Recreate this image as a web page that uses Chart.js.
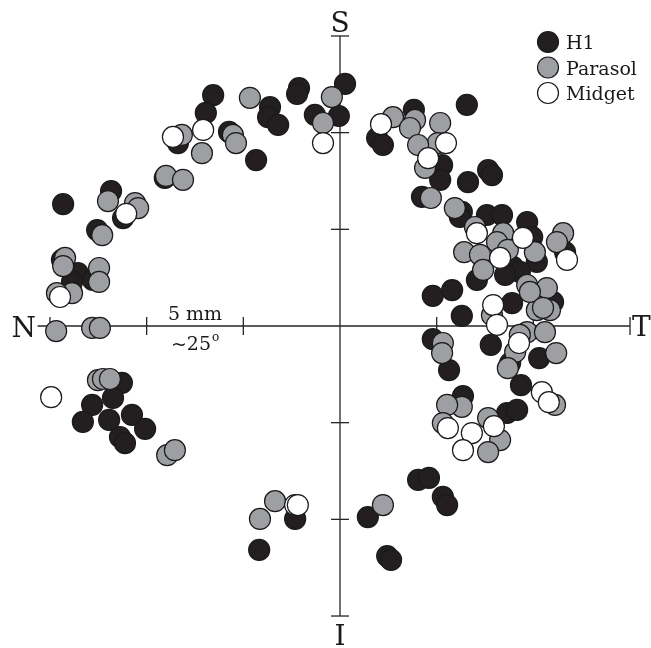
<!DOCTYPE html>
<html>
<head>
<meta charset="utf-8">
<script src="https://cdn.jsdelivr.net/npm/chart.js@4.4.1/dist/chart.umd.min.js"></script>
<style>
  html, body { margin: 0; padding: 0; background: #fff; }
  #wrap { width: 651px; height: 648px; }
</style>
</head>
<body>
<div id="wrap"><canvas id="chart" width="651" height="648"></canvas></div>
<script>
// retinal positions in mm from the fovea (x: nasal <-> temporal, y: inferior <-> superior)
const h1 = [
  [-7.16, 3.15], [-5.92, 3.49], [-5.61, 2.79], [-6.28, 2.48], [-7.19, 1.71], [-6.78, 1.37],
  [-6.93, 1.14], [-6.39, 1.19], [-3.28, 5.97], [-3.47, 5.51], [-1.81, 5.66], [-1.86, 5.40],
  [-1.60, 5.20], [-1.06, 6.15], [-1.11, 6.00], [-0.65, 5.46], [0.13, 6.26], [-0.03, 5.43],
  [-2.87, 5.02], [-2.17, 4.29], [-4.19, 4.73], [-4.53, 3.83],
  [-5.64, -1.47], [-5.87, -1.86], [-6.41, -2.04], [-6.65, -2.48], [-5.97, -2.43], [-5.38, -2.30],
  [-5.04, -2.66], [-5.69, -2.87], [-5.56, -3.03],
  [-1.16, -4.99], [-2.09, -5.79], [0.72, -4.94], [2.02, -3.98], [2.30, -3.93], [2.66, -4.42],
  [2.77, -4.63], [1.22, -5.95], [1.32, -6.05],
  [3.28, 5.72], [0.96, 4.86], [1.11, 4.68], [1.91, 5.59], [2.64, 4.16], [2.59, 3.78],
  [3.31, 3.72], [3.83, 4.03], [3.93, 3.90], [2.12, 3.34], [3.15, 2.95], [3.10, 2.82],
  [3.80, 2.87], [4.19, 2.87], [4.84, 2.69], [4.97, 2.30], [5.82, 1.91], [5.09, 1.66],
  [3.54, 1.19], [4.47, 1.53], [4.65, 1.40], [4.27, 1.32], [2.40, 0.78], [2.90, 0.93],
  [3.15, 0.26], [4.45, 0.59], [5.51, 0.62], [2.40, -0.34], [2.82, -1.14], [3.90, -0.49],
  [4.40, -0.96], [5.15, -0.83], [4.68, -1.53], [3.18, -1.81], [4.32, -2.25], [4.58, -2.17]
];

const parasol = [
  [-6.00, 3.23], [-5.30, 3.18], [-5.22, 3.05], [-6.15, 2.35], [-7.11, 1.76], [-7.16, 1.55],
  [-6.23, 1.50], [-6.23, 1.14], [-6.93, 0.85], [-7.32, 0.85], [-7.34, -0.13], [-6.41, -0.05],
  [-6.21, -0.05], [-2.33, 5.90], [-0.21, 5.92], [-0.44, 5.25], [-2.77, 4.94], [-2.69, 4.73],
  [-3.57, 4.47], [-4.09, 4.94], [-4.50, 3.88], [-4.06, 3.78],
  [-6.26, -1.40], [-6.13, -1.37], [-5.95, -1.37], [-4.47, -3.34], [-4.27, -3.21],
  [-1.68, -4.53], [-2.07, -4.99], [1.11, -4.63],
  [1.37, 5.40], [1.94, 5.33], [1.81, 5.12], [2.59, 5.25], [2.53, 4.73], [2.02, 4.68],
  [2.20, 4.09], [2.35, 3.31], [2.97, 3.05], [3.49, 2.56], [4.22, 2.40], [4.06, 2.17],
  [3.21, 1.91], [3.62, 1.84], [4.34, 1.97], [5.04, 1.91], [5.77, 2.40], [5.61, 2.17],
  [3.70, 1.45], [4.84, 1.06], [5.35, 0.98], [3.93, 0.28], [5.09, 0.41], [5.43, 0.41],
  [4.91, 0.88], [5.25, 0.47], [4.84, -0.16], [5.30, -0.16], [4.65, -0.23], [4.53, -0.67],
  [2.66, -0.44], [2.64, -0.70], [4.34, -1.09], [5.59, -0.70], [5.56, -2.04], [3.15, -2.09],
  [2.77, -2.04], [2.66, -2.51], [3.83, -2.38], [4.14, -2.95], [3.83, -3.26]
];

const midget = [
  [-5.53, 2.90], [-7.24, 0.75], [-7.47, -1.84], [-3.54, 5.07], [-4.32, 4.89], [-0.44, 4.73],
  [-1.16, -4.63], [-1.09, -4.63], [1.06, 5.22], [2.74, 4.73], [2.28, 4.34], [3.54, 2.40],
  [4.73, 2.28], [5.87, 1.71], [4.14, 1.76], [3.96, 0.54], [4.06, 0.03], [4.63, -0.44],
  [5.22, -1.71], [5.40, -1.97], [2.79, -2.64], [3.98, -2.59], [3.41, -2.77], [3.18, -3.21]
];

const seriesNames = ['H1', 'Parasol', 'Midget'];
const tickMM = [-7.5, -5, -2.5, 2.5, 5, 7.5];
const compass = { top: 'S', bottom: 'I', left: 'N', right: 'T' };
const scaleLabel = '5 mm';
const degLabel = '~25';

const PX_PER_MM = 38.67;
const CX = 340, CY = 326, W = 651, H = 648;
const R = 10.5;
const fills = ['#231f20', '#9d9fa2', '#ffffff'];
const SERIF = '"DejaVu Serif", "Liberation Serif", serif';

function line(ctx, x1, y1, x2, y2) {
  ctx.beginPath();
  ctx.moveTo(x1, y1);
  ctx.lineTo(x2, y2);
  ctx.stroke();
}

const crossAxes = {
  id: 'crossAxes',
  beforeDatasetsDraw(chart) {
    const { ctx } = chart;
    const x = chart.scales.x, y = chart.scales.y;
    const x0 = x.getPixelForValue(0), y0 = y.getPixelForValue(0);
    ctx.save();
    ctx.strokeStyle = '#262626';
    ctx.lineWidth = 1.3;
    line(ctx, x.getPixelForValue(-7.82), y0, x.getPixelForValue(7.5), y0);
    line(ctx, x0, y.getPixelForValue(7.5), x0, y.getPixelForValue(-7.5));
    tickMM.forEach(v => {
      const px = x.getPixelForValue(v);
      line(ctx, px, y0 - 9, px, y0 + 9);
      const py = y.getPixelForValue(v);
      line(ctx, x0 - 9, py, x0 + 9, py);
    });
    ctx.restore();
  },
  afterDraw(chart) {
    const { ctx } = chart;
    const x = chart.scales.x, y = chart.scales.y;
    const x0 = x.getPixelForValue(0), y0 = y.getPixelForValue(0);
    ctx.save();
    ctx.fillStyle = '#1a1a1a';
    ctx.font = '28px ' + SERIF;
    ctx.textBaseline = 'alphabetic';
    ctx.textAlign = 'center';
    ctx.fillText(compass.top, x0, 32);
    ctx.fillText(compass.bottom, x0, 645);
    ctx.textAlign = 'right';
    ctx.fillText(compass.left, 36, y0 + 11);
    ctx.textAlign = 'left';
    ctx.fillText(compass.right, x.getPixelForValue(7.5) + 2, y0 + 10);

    // scale bar labels between the -7.5 and -2.5 mm ticks
    const mid = (x.getPixelForValue(-5) + x.getPixelForValue(-2.5)) / 2;
    ctx.font = '19px ' + SERIF;
    ctx.textAlign = 'center';
    ctx.fillText(scaleLabel, mid, y0 - 6);
    const w = ctx.measureText(degLabel).width;
    ctx.fillText(degLabel, mid - 4, y0 + 24);
    ctx.font = '12px ' + SERIF;
    ctx.textAlign = 'left';
    ctx.fillText('o', mid - 4 + w / 2 + 1, y0 + 15);

    // legend
    ctx.font = '19px ' + SERIF;
    seriesNames.forEach((name, i) => {
      const cy = 42 + i * 25.5;
      ctx.beginPath();
      ctx.arc(548, cy, R, 0, Math.PI * 2);
      ctx.fillStyle = fills[i];
      ctx.fill();
      ctx.lineWidth = 1.2;
      ctx.strokeStyle = '#1a1a1a';
      ctx.stroke();
      ctx.fillStyle = '#1a1a1a';
      ctx.fillText(name, 566, cy + 7);
    });
    ctx.restore();
  }
};

const toPts = arr => arr.map(p => ({ x: p[0], y: p[1] }));

function makeSet(label, data, i) {
  return {
    label: label,
    data: toPts(data),
    pointRadius: R,
    pointHoverRadius: R,
    pointBackgroundColor: fills[i],
    pointBorderColor: '#1a1a1a',
    pointBorderWidth: 1.2,
    showLine: false,
    clip: false,
    order: 3 - i
  };
}

new Chart(document.getElementById('chart'), {
  type: 'scatter',
  data: {
    datasets: [
      makeSet(seriesNames[0], h1, 0),
      makeSet(seriesNames[1], parasol, 1),
      makeSet(seriesNames[2], midget, 2)
    ]
  },
  options: {
    responsive: false,
    animation: false,
    devicePixelRatio: 1,
    events: [],
    layout: { padding: 0, autoPadding: false },
    scales: {
      x: { type: 'linear', display: false, min: -CX / PX_PER_MM, max: (W - CX) / PX_PER_MM },
      y: { type: 'linear', display: false, min: -(H - CY) / PX_PER_MM, max: CY / PX_PER_MM }
    },
    plugins: {
      legend: { display: false },
      tooltip: { enabled: false }
    }
  },
  plugins: [crossAxes]
});
</script>
</body>
</html>
